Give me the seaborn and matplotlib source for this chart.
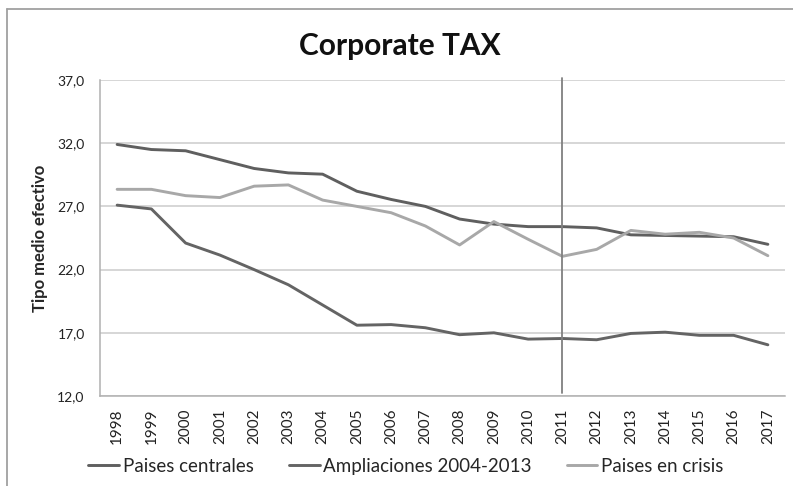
import matplotlib
matplotlib.use("Agg")
import matplotlib.pyplot as plt
from matplotlib.lines import Line2D
from matplotlib.ticker import FuncFormatter, FixedLocator
import pandas as pd
import seaborn as sns

years = list(range(1998, 2018))

paises_centrales = [31.9, 31.5, 31.4, 30.7, 30.0, 29.65, 29.55, 28.2, 27.55, 27.0,
                    26.0, 25.6, 25.4, 25.4, 25.3, 24.75, 24.7, 24.65, 24.6, 24.0]
ampliaciones = [27.1, 26.8, 24.1, 23.15, 22.0, 20.8, 19.2, 17.6, 17.65, 17.4,
                16.85, 17.0, 16.5, 16.55, 16.45, 16.95, 17.05, 16.8, 16.8, 16.05]
paises_crisis = [28.35, 28.35, 27.85, 27.7, 28.6, 28.7, 27.5, 27.0, 26.5, 25.45,
                 23.95, 25.8, 24.4, 23.05, 23.6, 25.1, 24.8, 24.95, 24.5, 23.1]

series_names = ["Paises centrales", "Ampliaciones 2004-2013", "Paises en crisis"]
series_colors = ["#5f5f5f", "#646464", "#a8a8a8"]
y_ticks = [12.0, 17.0, 22.0, 27.0, 32.0, 37.0]
marker_year = 2011

df = pd.DataFrame({
    "Año": years * 3,
    "Tipo": paises_centrales + ampliaciones + paises_crisis,
    "Serie": [n for n in series_names for _ in years],
})

sns.set_theme(style="white")
plt.rcParams["font.family"] = ["Lato", "DejaVu Sans"]

fig = plt.figure(figsize=(7.93, 4.86), dpi=100)
W, H = 793, 486
ax = fig.add_axes([100 / W, 1 - 396 / H, (785 - 100) / W, (396 - 80) / H])

sns.lineplot(data=df, x="Año", y="Tipo", hue="Serie", hue_order=series_names,
             palette=series_colors, linewidth=2.1, legend=False, ax=ax, zorder=3)

ax.set_xlim(years[0] - 0.5, years[-1] + 0.5)
ax.set_ylim(y_ticks[0], y_ticks[-1])
ax.yaxis.set_major_locator(FixedLocator(y_ticks))
ax.yaxis.set_major_formatter(FuncFormatter(lambda v, p: f"{v:.1f}".replace(".", ",")))
ax.set_xticks(years)
ax.set_xticklabels([str(y) for y in years], rotation=90, fontsize=11, color="#222222")
ax.tick_params(axis="y", labelsize=10, colors="#222222", length=0, pad=11)
ax.tick_params(axis="x", length=0, pad=9)

ax.grid(axis="y", color="#cccccc", linewidth=1.1)
ax.set_axisbelow(True)
for side in ["top", "right"]:
    ax.spines[side].set_visible(False)
for side in ["left", "bottom"]:
    ax.spines[side].set_color("#b0b0b0")
    ax.spines[side].set_linewidth(1.1)

ax.axvline(marker_year, ymin=0.01, ymax=1.005, color="#808080", linewidth=1.3,
           zorder=4, clip_on=False)

ax.set_xlabel("")
ax.set_ylabel("Tipo medio efectivo", fontsize=12, fontweight="bold", labelpad=7)

fig.text(400 / W, 1 - 46 / H, "Corporate TAX", ha="center", va="center",
         fontsize=21.5, fontweight="bold", color="#111111")

handles = [Line2D([0], [0], color=c, linewidth=2.1) for c in series_colors]
fig.legend(handles, series_names, loc="center", bbox_to_anchor=(406 / W, 1 - 466 / H),
           ncol=3, frameon=False, fontsize=13.5, handlelength=1.65, handletextpad=0.2,
           columnspacing=1.85, borderpad=0)

# chart frame
frame_color = "#a0a0a0"
fig.add_artist(Line2D([7 / W, 7 / W], [0, 1 - 9 / H], color=frame_color, linewidth=1.3))
fig.add_artist(Line2D([7 / W, 1], [1 - 9 / H, 1 - 9 / H], color=frame_color, linewidth=1.3))

fig.savefig("out.png", dpi=100)
